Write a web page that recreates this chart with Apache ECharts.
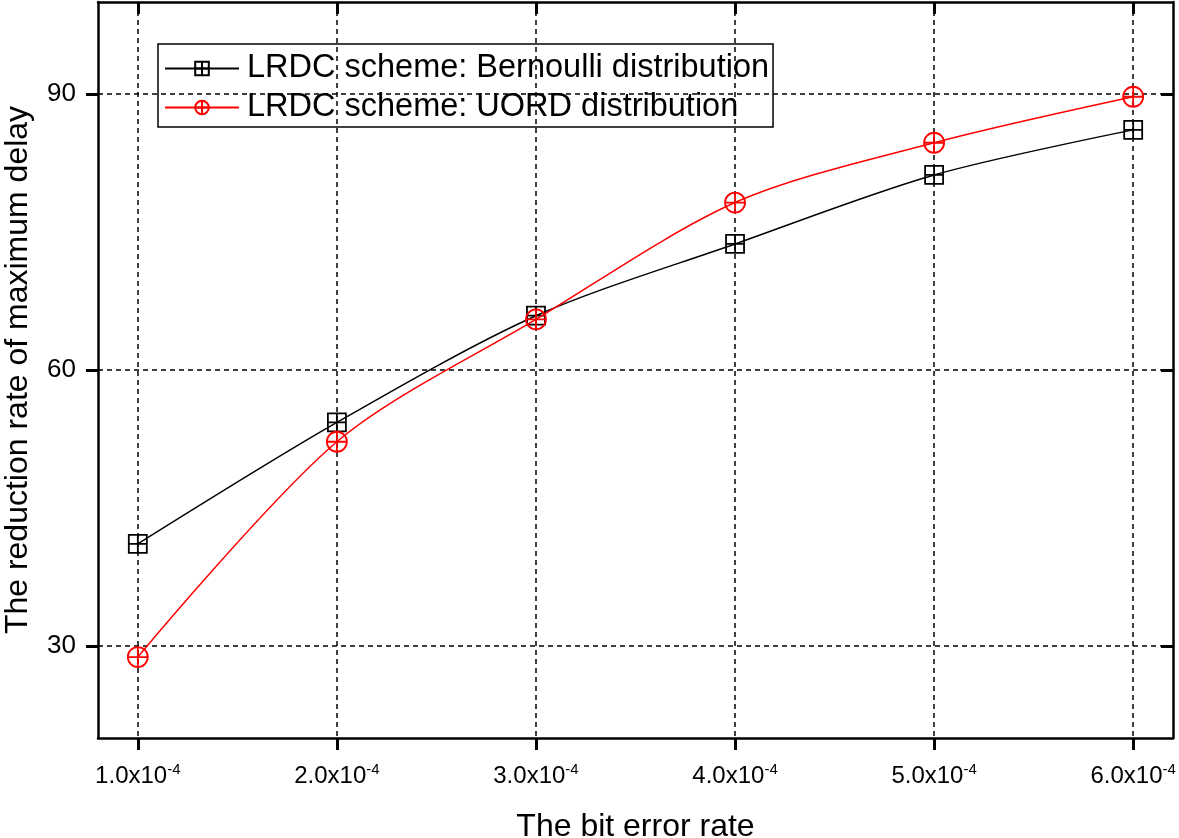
<!DOCTYPE html>
<html>
<head>
<meta charset="utf-8">
<script src="https://cdn.jsdelivr.net/npm/echarts@6/dist/echarts.min.js"></script>
<style>html,body{margin:0;padding:0;background:#fff}#c{width:1179px;height:838px}</style>
</head>
<body>
<div id="c"></div>
<script>
const xValues = [1, 2, 3, 4, 5, 6];
const xTickLabels = ['1.0', '2.0', '3.0', '4.0', '5.0', '6.0'];
const yTicks = [30, 60, 90];
const bernoulli = [41.1, 54.3, 65.9, 73.7, 81.2, 86.1];
const uord = [28.8, 52.2, 65.5, 78.2, 84.7, 89.7];
const seriesNames = ['LRDC scheme: Bernoulli distribution', 'LRDC scheme: UORD distribution'];

const FONT = 'Liberation Sans, Arial, Helvetica, sans-serif';
const squarePlus = 'path://M0,0 L20,0 L20,20 L0,20 Z M10,0 L10,20 M0,10 L20,10';
const circlePlus = 'path://M0,10 A10,10 0 1,1 20,10 A10,10 0 1,1 0,10 Z M10,0 L10,20 M0,10 L20,10';

const chart = echarts.init(document.getElementById('c'));
const gridLine = { show: true, lineStyle: { color: '#000', type: [5, 4], width: 1.5 } };
const axisLineStyle = { show: true, onZero: false, lineStyle: { color: '#000', width: 2.5 } };
const xLabelVals = xValues.slice();

chart.setOption({
  animation: false,
  grid: { left: 98, right: 6, top: 2, bottom: 100, containLabel: false, outerBoundsMode: 'none' },
  legend: {
    orient: 'vertical',
    left: 158, top: 44,
    borderColor: '#000', borderWidth: 1.5,
    padding: [8, 4, 3, 6],
    itemWidth: 74, itemHeight: 17, itemGap: 6,
    textStyle: { fontFamily: FONT, fontSize: 32.5, color: '#000', padding: [0, 0, 0, 3] },
    data: seriesNames
  },
  xAxis: [{
    type: 'value', min: 0.8, max: 6.2, position: 'bottom',
    name: 'The bit error rate', nameLocation: 'middle', nameGap: 73,
    nameTextStyle: { fontFamily: FONT, fontSize: 32, color: '#000' },
    axisLine: axisLineStyle,
    axisTick: { show: true, inside: false, length: 12, customValues: xLabelVals, lineStyle: { width: 3, color: '#000' } },
    axisLabel: {
      customValues: xLabelVals, margin: 24,
      fontFamily: FONT, fontSize: 24, color: '#000',
      formatter: v => xTickLabels[xValues.indexOf(Math.round(v))] + 'x10{sup|-4}',
      rich: { sup: { fontFamily: FONT, fontSize: 15, color: '#000', verticalAlign: 'top', padding: [0, 0, 14, 0] } }
    },
    splitLine: Object.assign({ customValues: xLabelVals }, gridLine)
  }, {
    type: 'value', min: 0.8, max: 6.2, position: 'top',
    axisLine: axisLineStyle,
    axisTick: { show: true, inside: true, length: 12, customValues: xLabelVals, lineStyle: { width: 3, color: '#000' } },
    axisLabel: { show: false, customValues: xLabelVals },
    splitLine: { show: false }
  }],
  yAxis: [{
    type: 'value', min: 20, max: 100, position: 'left',
    name: 'The reduction rate of maximum delay', nameLocation: 'middle', nameGap: 64,
    nameTextStyle: { fontFamily: FONT, fontSize: 32, color: '#000' },
    axisLine: axisLineStyle,
    axisTick: { show: true, inside: false, length: 12, customValues: yTicks, lineStyle: { width: 3, color: '#000' } },
    axisLabel: { customValues: yTicks, margin: 22, fontFamily: FONT, fontSize: 26, color: '#000' },
    splitLine: Object.assign({ customValues: yTicks }, gridLine)
  }, {
    type: 'value', min: 20, max: 100, position: 'right',
    axisLine: axisLineStyle,
    axisTick: { show: true, inside: true, length: 12, customValues: yTicks, lineStyle: { width: 3, color: '#000' } },
    axisLabel: { show: false, customValues: yTicks },
    splitLine: { show: false }
  }],
  series: [{
    name: seriesNames[0], type: 'line', smooth: 0.3,
    data: xValues.map((x, i) => [x, bernoulli[i]]),
    symbol: squarePlus, symbolSize: 18,
    lineStyle: { color: '#000', width: 1.5 },
    itemStyle: { color: 'rgba(0,0,0,0)', borderColor: '#000', borderWidth: 1.8 },
    z: 3
  }, {
    name: seriesNames[1], type: 'line', smooth: 0.3,
    data: xValues.map((x, i) => [x, uord[i]]),
    symbol: circlePlus, symbolSize: 20,
    lineStyle: { color: '#ff0000', width: 1.5 },
    itemStyle: { color: 'rgba(0,0,0,0)', borderColor: '#ff0000', borderWidth: 1.8 },
    z: 4
  }]
});
</script>
</body>
</html>
